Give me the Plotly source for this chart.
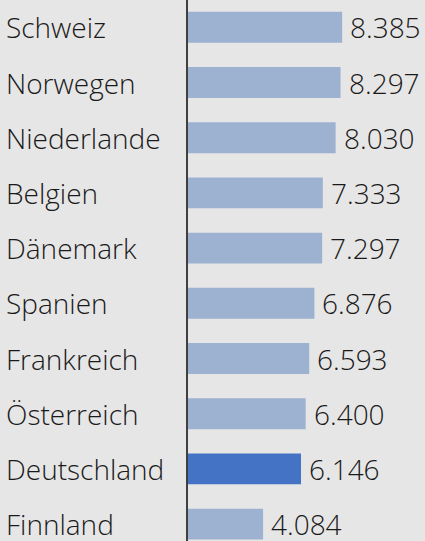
import plotly.graph_objects as go

countries = ["Schweiz", "Norwegen", "Niederlande", "Belgien", "Dänemark",
             "Spanien", "Frankreich", "Österreich", "Deutschland", "Finnland"]
values = [8.385, 8.297, 8.030, 7.333, 7.297, 6.876, 6.593, 6.400, 6.146, 4.084]
highlight = "Deutschland"

BG = "#e7e6e6"
LIGHT = "#9db1d1"
DARK = "#4472c4"
FONT = "Open Sans"
FS = 28

colors = [DARK if c == highlight else LIGHT for c in countries]

fig = go.Figure(go.Bar(
    x=values, y=countries, orientation="h",
    marker=dict(color=colors, line=dict(width=0)),
    width=0.56,
))

annotations = []
for c, v in zip(countries, values):
    annotations.append(dict(
        x=v, y=c, xref="x", yref="y", text=f"{v:.3f}",
        showarrow=False, xanchor="left", yanchor="middle", xshift=6,
        font=dict(family=FONT, size=FS, color="#1a1a1a", weight=300),
    ))
    annotations.append(dict(
        x=-184 / 237, y=c, xref="paper", yref="y", text=c,
        showarrow=False, xanchor="left", yanchor="middle",
        font=dict(family=FONT, size=FS, color="#1a1a1a", weight=300),
    ))

fig.update_layout(
    width=425, height=541,
    margin=dict(l=188, r=0, t=0, b=0),
    paper_bgcolor=BG, plot_bgcolor=BG,
    showlegend=False,
    xaxis=dict(range=[0, 12.89], showgrid=False, zeroline=False,
               showticklabels=False, showline=False, fixedrange=True),
    yaxis=dict(categoryorder="array", categoryarray=countries,
               range=[9.306, -0.495], showgrid=False, zeroline=False,
               showticklabels=False, ticks="", showline=True,
               linecolor="#404040", linewidth=2, fixedrange=True),
    annotations=annotations,
)

fig.write_html("out.html", config={"displayModeBar": False},
               post_script="document.body.style.margin='0';document.body.style.overflow='hidden';")
